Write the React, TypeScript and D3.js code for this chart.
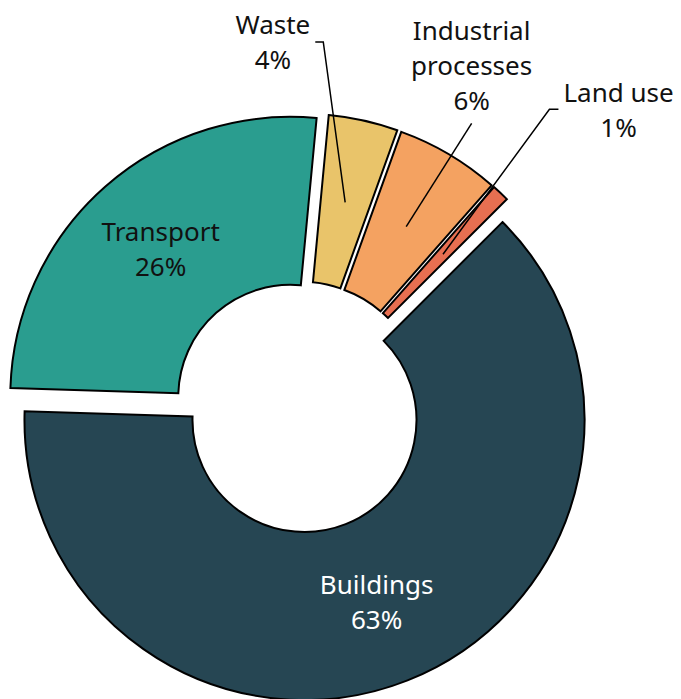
import { useEffect, useRef } from "react"
import * as d3 from "d3"

// emission shares by sector (%)
const categories = ["Buildings", "Transport", "Waste", "Industrial processes", "Land use"]
const shares = [63, 26, 4, 6, 1]
const colors = ["#264653", "#2a9d8f", "#e9c46a", "#f4a261", "#e76f51"]
const textColors = ["#ffffff", "#111111", "#111111", "#111111", "#111111"]

// layout
const W = 681
const H = 699
const cx = 299.4
const cy = 407.2
const outerR = 280
const innerR = 112
const explode = 13.8
const startDeg = 45
const fontSize = 26
const lineH = 35

// small slices get an outside label; elbow given in polar coords around the pie centre
const callouts: Record<string, { angle: number; r: number; stub: number; side: "left" | "right" | "top" }> = {
  Waste: { angle: 3.74, r: 366, stub: -8, side: "left" },
  "Industrial processes": { angle: 31.25, r: 332, stub: 0, side: "top" },
  "Land use": { angle: 40, r: 389, stub: 9, side: "right" },
}

const rad = (deg: number) => (deg * Math.PI) / 180

function labelLines(name: string, share: number) {
  const lines = name.length > 10 ? name.split(" ") : [name]
  return [...lines, `${share}%`]
}

export default function App() {
  const svgRef = useRef<SVGSVGElement>(null)

  useEffect(() => {
    if (!svgRef.current) return
    const svg = d3.select(svgRef.current)
    svg.selectAll("*").remove()

    const g = svg.append("g").attr("transform", `translate(${cx},${cy})`)

    const pie = d3
      .pie<number>()
      .sort(null)
      .value((d) => d)
      .startAngle(rad(startDeg))
      .endAngle(rad(startDeg + 360))
    const arcs = pie(shares)

    const arc = d3.arc<d3.PieArcDatum<number>>().innerRadius(innerR).outerRadius(outerR)

    const offset = (a: d3.PieArcDatum<number>) => {
      const m = (a.startAngle + a.endAngle) / 2
      return [explode * Math.sin(m), -explode * Math.cos(m)]
    }

    // slices
    arcs.forEach((a, i) => {
      const [ox, oy] = offset(a)
      g.append("path")
        .attr("transform", `translate(${ox},${oy})`)
        .attr("d", arc(a) as string)
        .attr("fill", colors[i])
        .attr("stroke", "#000")
        .attr("stroke-width", 2)
        .attr("stroke-linejoin", "miter")
    })

    // labels
    arcs.forEach((a, i) => {
      const name = categories[i]
      const lines = labelLines(name, shares[i])
      const [ox, oy] = offset(a)
      const [px, py] = arc.centroid(a)
      const c = callouts[name]

      const text = g
        .append("text")
        .attr("font-family", "'Noto Sans', 'Open Sans', sans-serif")
        .attr("font-size", fontSize)
        .attr("fill", textColors[i])
        .attr("text-anchor", "middle")

      lines.forEach((l, k) => {
        text
          .append("tspan")
          .attr("x", 0)
          .attr("y", (k - (lines.length - 1) / 2) * lineH + fontSize * 0.35)
          .text(l)
      })

      if (!c) {
        text.attr("transform", `translate(${px + ox},${py + oy})`)
        return
      }

      const ex = c.r * Math.sin(rad(c.angle))
      const ey = -c.r * Math.cos(rad(c.angle))
      const pts: [number, number][] = [
        [px + ox, py + oy],
        [ex, ey],
      ]
      if (c.stub) pts.push([ex + c.stub, ey])

      g.append("path")
        .attr("d", d3.line()(pts) as string)
        .attr("fill", "none")
        .attr("stroke", "#000")
        .attr("stroke-width", 1.5)

      const bb = (text.node() as SVGTextElement).getBBox()
      const gap = 5
      let tx = 0
      let ty = 0
      if (c.side === "left") {
        tx = ex + c.stub - gap - (bb.x + bb.width)
        ty = ey - (bb.y + bb.height / 2)
      } else if (c.side === "right") {
        tx = ex + c.stub + gap - bb.x
        ty = ey - (bb.y + bb.height / 2)
      } else {
        tx = ex - (bb.x + bb.width / 2)
        ty = ey - gap - (bb.y + bb.height)
      }
      text.attr("transform", `translate(${tx},${ty})`)
    })
  }, [])

  return (
    <svg
      ref={svgRef}
      width={W}
      height={H}
      style={{ position: "absolute", left: 0, top: 0, background: "#fff" }}
    />
  )
}
